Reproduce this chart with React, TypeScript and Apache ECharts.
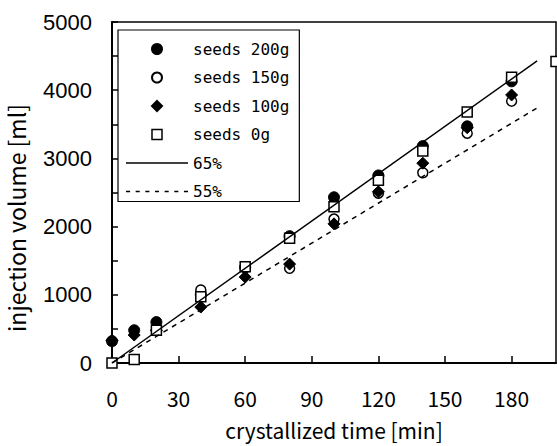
import React, { useEffect, useRef } from "react";
import * as echarts from "echarts";

// crystallized time [min]
const times = [0, 10, 20, 40, 60, 80, 100, 120, 140, 160, 180, 200];

const seeds200: [number, number][] = [
  [0, 320], [10, 480], [20, 600], [40, 1000], [60, 1400], [80, 1860],
  [100, 2430], [120, 2750], [140, 3180], [160, 3470], [180, 4130],
];
const seeds150: [number, number][] = [
  [20, 480], [40, 1070], [60, 1410], [80, 1390], [100, 2110],
  [120, 2490], [140, 2790], [160, 3370], [180, 3840],
];
const seeds100: [number, number][] = [
  [0, 330], [10, 410], [20, 480], [40, 820], [60, 1260], [80, 1450],
  [100, 2040], [120, 2510], [140, 2930], [160, 3450], [180, 3930],
];
const seeds0: [number, number][] = [
  [0, 0], [10, 50], [20, 480], [40, 970], [60, 1410], [80, 1830],
  [100, 2290], [120, 2680], [140, 3110], [160, 3680], [180, 4190], [200, 4420],
];
const line65: [number, number][] = [[0, 0], [191.5, 4430]];
const line55: [number, number][] = [[0, 0], [191.5, 3740]];

const seriesNames = ["seeds 200g", "seeds 150g", "seeds 100g", "seeds 0g", "65%", "55%"];
const xTicks = [0, 30, 60, 90, 120, 150, 180];
const yTicks = [0, 1000, 2000, 3000, 4000, 5000];

const solidIcon = "path://M0,0h62v1.5h-62z";
const dashedIcon =
  "path://" +
  Array.from({ length: 7 }, (_, i) => `M${i * 9.5},0h4v1.5h-4z`).join(" ");
const diamondIcon = "path://M5,0L10,5L5,10L0,5Z";
const squareIcon = "path://M0,0h10v10h-10z";

export default function App() {
  const ref = useRef<HTMLDivElement>(null);
  useEffect(() => {
    if (!ref.current) return;
    const chart = echarts.init(ref.current, undefined, { renderer: "svg" });
    const black = "#000";
    chart.setOption({
      animation: false,
      backgroundColor: "#fff",
      grid: {
        left: 112, top: 22, right: 1, bottom: 83,
        show: true, borderColor: black, borderWidth: 1.5, backgroundColor: "transparent",
      },
      legend: {
        orient: "vertical",
        left: 118, top: 30,
        padding: [11, 10, 2, 8],
        itemWidth: 62, itemHeight: 10, itemGap: 12.5,
        symbolKeepAspect: true,
        borderColor: black, borderWidth: 1.2,
        backgroundColor: "#fff",
        textStyle: { fontFamily: "DejaVu Sans Mono", fontSize: 16, color: black },
        data: [
          { name: seriesNames[0], icon: "circle" },
          { name: seriesNames[1], icon: "circle" },
          { name: seriesNames[2], icon: diamondIcon },
          { name: seriesNames[3], icon: squareIcon, itemStyle: { color: "#fff", borderColor: black, borderWidth: 1.5 } },
          { name: seriesNames[4], icon: solidIcon, itemStyle: { color: black, borderWidth: 0 } },
          { name: seriesNames[5], icon: dashedIcon, itemStyle: { color: black, borderWidth: 0 } },
        ],
      },
      xAxis: {
        type: "value", min: times[0], max: times[times.length - 1], interval: xTicks[1] - xTicks[0],
        axisLine: { show: true, lineStyle: { color: black, width: 2 } },
        axisTick: { show: true, inside: true, length: 7, lineStyle: { color: black, width: 1.5 } },
        splitLine: { show: false },
        axisLabel: {
          showMaxLabel: false, margin: 24,
          fontFamily: "Noto Sans CJK JP", fontSize: 21, color: black,
          formatter: (v: number) => (xTicks.includes(v) ? String(v) : ""),
        },
      },
      yAxis: {
        type: "value", min: yTicks[0], max: yTicks[yTicks.length - 1], interval: yTicks[1] - yTicks[0],
        axisLine: { show: true, lineStyle: { color: black, width: 2 } },
        axisTick: { show: true, inside: true, length: 6, lineStyle: { color: black, width: 1.5 } },
        minorTick: { show: true, splitNumber: 2, length: 6, lineStyle: { color: black, width: 1.5 } },
        splitLine: { show: false },
        axisLabel: {
          margin: 20, fontFamily: "Liberation Sans", fontSize: 22, color: black,
          formatter: (v: number) => String(v),
        },
      },
      graphic: [
        {
          type: "text", x: 334, y: 430,
          style: {
            text: "crystallized time [min]", fontFamily: "Noto Sans CJK JP", fontSize: 21, fill: black,
            align: "center", verticalAlign: "middle",
          },
        },
        {
          type: "text", x: 4, y: 218, rotation: Math.PI / 2,
          style: {
            text: "injection volume [ml]", fontFamily: "Noto Sans CJK JP", fontSize: 23, fill: black,
            align: "center", verticalAlign: "top",
          },
        },
      ],
      series: [
        {
          name: seriesNames[0], type: "scatter", data: seeds200, symbol: "circle", symbolSize: 11,
          itemStyle: { color: black, borderColor: black, borderWidth: 1, opacity: 1 },
        },
        {
          name: seriesNames[1], type: "scatter", data: seeds150, symbol: "circle", symbolSize: 10,
          itemStyle: { color: "#fff", borderColor: black, borderWidth: 1.5, opacity: 1 },
        },
        {
          name: seriesNames[2], type: "scatter", data: seeds100, symbol: "diamond", symbolSize: 12,
          itemStyle: { color: black, borderColor: black, borderWidth: 1, opacity: 1 },
        },
        {
          name: seriesNames[3], type: "scatter", data: seeds0, symbol: "rect", symbolSize: 10,
          itemStyle: { color: "#fff", borderColor: black, borderWidth: 1.5, opacity: 1 },
        },
        {
          name: seriesNames[4], type: "line", data: line65, symbol: "none", silent: true,
          lineStyle: { color: black, width: 1.5, type: "solid" }, itemStyle: { color: black },
        },
        {
          name: seriesNames[5], type: "line", data: line55, symbol: "none", silent: true,
          lineStyle: { color: black, width: 1.5, type: [5, 5] }, itemStyle: { color: black },
        },
      ],
    });
    return () => chart.dispose();
  }, []);
  return (
    <div
      ref={ref}
      style={{ position: "absolute", left: 0, top: 0, width: 557, height: 446 }}
    />
  );
}
